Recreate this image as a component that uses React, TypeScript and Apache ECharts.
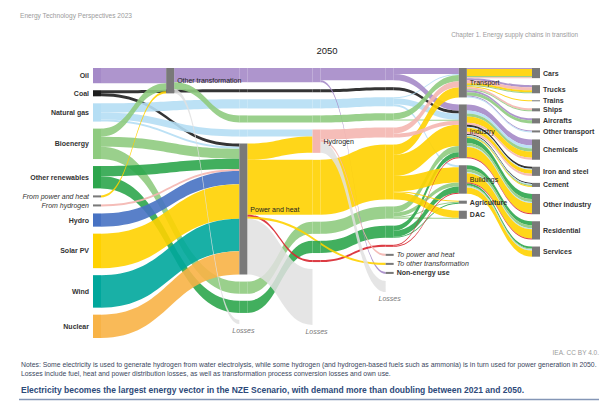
import React, { useEffect, useRef } from "react";
import * as echarts from "echarts";

// ---------- Real nodes ----------
const primarySources = ["Oil", "Coal", "Natural gas", "Bioenergy", "Other renewables", "From power and heat", "From hydrogen", "Hydro", "Solar PV", "Wind", "Nuclear"];
const sectorNodes = ["Transport", "Industry", "Buildings", "Agriculture", "DAC"];
const endUseNodes = ["Cars", "Trucks", "Trains", "Ships", "Aircrafts", "Other transport", "Chemicals", "Iron and steel", "Cement", "Other industry", "Residential", "Services"];

// Column stacking order (top to bottom); "@x" entries are flow bundles passing through the column
const column1 = ["Other transformation"];
const column2 = ["@oil", "@coal", "@gas", "@biofuel", "@gasH2", "Power and heat", "@bio", "@ren", "Losses (other transformation)"];
const column3 = ["@oil", "@coal", "@gas", "@biofuel", "Hydrogen", "@elec", "@bio", "@ren", "@heat", "Losses (power and heat)"];
const column4 = ["@oil", "@coal", "@gas", "@biofuel", "@h2", "@elec", "@bio", "@ren", "@heat", "To power and heat", "To other transformation", "Non-energy use", "Losses (hydrogen)"];

// Columns in which each bundle of long flows is drawn as a continuous band
const bundleColumns: Record<string, number[]> = {
  oil: [2, 3, 4], coal: [2, 3, 4], gas: [2, 3, 4], biofuel: [2, 3, 4], gasH2: [2],
  bio: [2, 3, 4], ren: [2, 3, 4], elec: [3, 4], heat: [3, 4], h2: [4],
};

type Flow = [string, string, string, number, string?];

// ---------- Flows (source, target, carrier, value, bundle) ----------
const supplyFlows: Flow[] = [
  ["Oil", "Other transformation", "oil", 15],
  ["Coal", "Power and heat", "coal", 3],
  ["Coal", "Industry", "coal", 3, "coal"],
  ["Natural gas", "Power and heat", "gas", 2],
  ["Natural gas", "Hydrogen", "gas", 7, "gasH2"],
  ["Natural gas", "Transport", "gas", 1, "gas"],
  ["Natural gas", "Industry", "gas", 6, "gas"],
  ["Natural gas", "Buildings", "gas", 2, "gas"],
  ["Bioenergy", "Other transformation", "bio", 8],
  ["Bioenergy", "Power and heat", "bio", 10],
  ["Bioenergy", "Industry", "bio", 6, "bio"],
  ["Bioenergy", "Buildings", "bio", 4, "bio"],
  ["Bioenergy", "Agriculture", "bio", 1, "bio"],
  ["Bioenergy", "DAC", "bio", 1, "bio"],
  ["Other renewables", "Power and heat", "ren", 10],
  ["Other renewables", "Industry", "ren", 5, "ren"],
  ["Other renewables", "Buildings", "ren", 6, "ren"],
  ["Other renewables", "Agriculture", "ren", 1, "ren"],
  ["From power and heat", "Other transformation", "elec", 2],
  ["From hydrogen", "Power and heat", "h2", 2],
  ["Hydro", "Power and heat", "hydro", 13],
  ["Solar PV", "Power and heat", "elec", 34],
  ["Wind", "Power and heat", "wind", 32],
  ["Nuclear", "Power and heat", "nuclear", 23],
];

const transformationFlows: Flow[] = [
  ["Other transformation", "Transport", "oil", 6, "oil"],
  ["Other transformation", "Industry", "oil", 6, "oil"],
  ["Other transformation", "Non-energy use", "oil", 2, "oil"],
  ["Other transformation", "Transport", "bio", 6, "biofuel"],
  ["Other transformation", "Industry", "bio", 1, "biofuel"],
  ["Other transformation", "Losses (other transformation)", "loss", 4],
];

const powerFlows: Flow[] = [
  ["Power and heat", "Hydrogen", "elec", 16],
  ["Power and heat", "Transport", "elec", 10, "elec"],
  ["Power and heat", "Industry", "elec", 21, "elec"],
  ["Power and heat", "Buildings", "elec", 15, "elec"],
  ["Power and heat", "Agriculture", "elec", 1, "elec"],
  ["Power and heat", "DAC", "elec", 7, "elec"],
  ["Power and heat", "Industry", "heat", 1, "heat"],
  ["Power and heat", "Buildings", "heat", 1, "heat"],
  ["Power and heat", "To other transformation", "elec", 2],
  ["Power and heat", "Losses (power and heat)", "loss", 55],
];

const hydrogenFlows: Flow[] = [
  ["Hydrogen", "Transport", "h2", 6, "h2"],
  ["Hydrogen", "Industry", "h2", 4, "h2"],
  ["Hydrogen", "To power and heat", "h2", 2],
  ["Hydrogen", "Losses (hydrogen)", "loss", 11],
];

const transportFlows: Flow[] = [
  ["Transport", "Cars", "oil", 1], ["Transport", "Cars", "elec", 7], ["Transport", "Cars", "bio", 1], ["Transport", "Cars", "h2", 1],
  ["Transport", "Trucks", "oil", 2], ["Transport", "Trucks", "h2", 3], ["Transport", "Trucks", "elec", 2], ["Transport", "Trucks", "bio", 1],
  ["Transport", "Trains", "elec", 1],
  ["Transport", "Ships", "h2", 2], ["Transport", "Ships", "bio", 1],
  ["Transport", "Aircrafts", "oil", 2], ["Transport", "Aircrafts", "bio", 3],
  ["Transport", "Other transport", "oil", 1], ["Transport", "Other transport", "gas", 1],
];

const industryFlows: Flow[] = [
  ["Industry", "Chemicals", "oil", 6], ["Industry", "Chemicals", "gas", 3], ["Industry", "Chemicals", "bio", 3], ["Industry", "Chemicals", "elec", 6], ["Industry", "Chemicals", "h2", 2],
  ["Industry", "Iron and steel", "coal", 2], ["Industry", "Iron and steel", "gas", 1], ["Industry", "Iron and steel", "elec", 4], ["Industry", "Iron and steel", "h2", 2],
  ["Industry", "Cement", "coal", 1], ["Industry", "Cement", "gas", 1], ["Industry", "Cement", "bio", 1], ["Industry", "Cement", "elec", 1],
  ["Industry", "Other industry", "ren", 5], ["Industry", "Other industry", "bio", 3], ["Industry", "Other industry", "gas", 1], ["Industry", "Other industry", "elec", 10], ["Industry", "Other industry", "heat", 1],
];

const buildingsFlows: Flow[] = [
  ["Buildings", "Residential", "ren", 4], ["Buildings", "Residential", "bio", 3], ["Buildings", "Residential", "gas", 1], ["Buildings", "Residential", "elec", 9], ["Buildings", "Residential", "heat", 1],
  ["Buildings", "Services", "ren", 2], ["Buildings", "Services", "bio", 1], ["Buildings", "Services", "gas", 1], ["Buildings", "Services", "elec", 6],
];

// ---------- Styles ----------
const carrierColors: Record<string, string> = {
  oil: "#a58ac8", coal: "#1e1e1e", gas: "#b5def4", bio: "#8fcb80", ren: "#2ea64d",
  elec: "#ffd200", hydro: "#4772c3", wind: "#00a79c", nuclear: "#f8b346",
  h2: "#f4b6b0", heat: "#d8262f", loss: "#e0e0e0",
};
const bundleCarrier: Record<string, string> = {
  oil: "oil", coal: "coal", gas: "gas", biofuel: "bio", gasH2: "gas", bio: "bio", ren: "ren", elec: "elec", heat: "heat", h2: "h2",
};
const sourceCarrier: Record<string, string> = {
  Oil: "oil", Coal: "coal", "Natural gas": "gas", Bioenergy: "bio", "Other renewables": "ren",
  Hydro: "hydro", "Solar PV": "elec", Wind: "wind", Nuclear: "nuclear",
};

const FONT = "'Liberation Sans', Arial, sans-serif";
const NODE_GRAY = "#797979";
const FLOW_OPACITY = 0.9;
const HUB_NODES = ["Other transformation", "Power and heat", "Hydrogen", "Transport", "Industry", "Buildings"];

const columns = [primarySources, column1, column2, column3, column4, sectorNodes, endUseNodes];

function nodeId(entry: string, depth: number) {
  return entry.startsWith("@") ? `${entry}|${depth}` : entry;
}

function buildGraph() {
  const depthOf: Record<string, number> = {};
  const nodes: any[] = [];
  columns.forEach((col, depth) => {
    col.forEach((entry) => {
      const id = nodeId(entry, depth);
      depthOf[entry] = depthOf[entry] ?? depth;
      if (entry.startsWith("@")) {
        const carrier = bundleCarrier[entry.slice(1)];
        nodes.push({
          name: id, depth,
          itemStyle: { color: carrierColors[carrier], opacity: FLOW_OPACITY, borderWidth: 0 },
          label: { show: false },
        });
        return;
      }
      const isLoss = entry.startsWith("Losses");
      const italic = isLoss || entry.startsWith("From ") || entry.startsWith("To ");
      let color = NODE_GRAY;
      if (depth === 0 && sourceCarrier[entry]) color = carrierColors[sourceCarrier[entry]];
      if (entry === "Hydrogen") color = carrierColors.h2;
      const hub = HUB_NODES.includes(entry);
      nodes.push({
        name: id, depth,
        itemStyle: { color, opacity: isLoss ? 0 : 1, borderWidth: 0 },
        label: {
          position: isLoss ? "bottom" : depth === 0 ? "left" : "right",
          formatter: isLoss ? "Losses" : "{b}",
          fontStyle: italic ? "italic" : "normal",
          fontWeight: italic || hub ? "normal" : "bold",
          color: isLoss ? "#777" : hub ? "#222" : "#333",
          distance: depth === 0 ? 4 : 3,
        },
      });
    });
  });

  // split long flows into segments through bundle pass-through nodes
  const segs = new Map<string, { source: string; target: string; carrier: string; value: number }>();
  const all = [...supplyFlows, ...transformationFlows, ...powerFlows, ...hydrogenFlows, ...transportFlows, ...industryFlows, ...buildingsFlows];
  all.forEach(([source, target, carrier, value, bundle]) => {
    const path = [source];
    if (bundle) {
      const d0 = depthOf[source];
      const d1 = depthOf[target];
      bundleColumns[bundle].filter((c) => c > d0 && c < d1).forEach((c) => path.push(`@${bundle}|${c}`));
    }
    path.push(target);
    for (let i = 0; i < path.length - 1; i++) {
      const key = `${path[i]}>${path[i + 1]}>${carrier}`;
      const s = segs.get(key);
      if (s) s.value += value;
      else segs.set(key, { source: path[i], target: path[i + 1], carrier, value });
    }
  });
  const links = Array.from(segs.values()).map((s) => ({
    source: s.source,
    target: s.target,
    value: s.value,
    lineStyle: { color: carrierColors[s.carrier], opacity: s.carrier === "loss" ? 0.85 : FLOW_OPACITY },
  }));
  return { nodes, links };
}

export default function App() {
  const ref = useRef<HTMLDivElement>(null);
  useEffect(() => {
    document.body.style.margin = "0";
    const chart = echarts.init(ref.current!, null, { renderer: "svg" });
    const { nodes, links } = buildGraph();
    chart.setOption({
      animation: false,
      backgroundColor: "#ffffff",
      textStyle: { fontFamily: FONT },
      graphic: [
        { type: "text", x: 20, y: 12, style: { text: "Energy Technology Perspectives 2023", fontSize: 6.6, fill: "#9b9b9b", fontFamily: FONT } },
        { type: "text", x: 578, y: 31, style: { text: "Chapter 1. Energy supply chains in transition", fontSize: 6.4, fill: "#9b9b9b", fontFamily: FONT, textAlign: "right" } },
        { type: "text", x: 327, y: 45, style: { text: "2050", fontSize: 9.5, fill: "#222", fontFamily: FONT, textAlign: "center" } },
        { type: "text", x: 599, y: 349, style: { text: "IEA. CC BY 4.0.", fontSize: 6.5, fill: "#9b9b9b", fontFamily: FONT, textAlign: "right" } },
        { type: "text", x: 21, y: 361, style: { text: "Notes: Some electricity is used to generate hydrogen from water electrolysis, while some hydrogen (and hydrogen-based fuels such as ammonia) is in turn used for power generation in 2050.", fontSize: 6.85, fill: "#3a4660", fontFamily: FONT } },
        { type: "text", x: 21, y: 370, style: { text: "Losses include fuel, heat and power distribution losses, as well as transformation process conversion losses and own use.", fontSize: 6.85, fill: "#3a4660", fontFamily: FONT } },
        { type: "text", x: 21, y: 385, style: { text: "Electricity becomes the largest energy vector in the NZE Scenario, with demand more than doubling between 2021 and 2050.", fontSize: 8.5, fontWeight: "bold", fill: "#2d4a7a", fontFamily: FONT } },
        { type: "line", shape: { x1: 19, y1: 399.5, x2: 599, y2: 399.5 }, style: { stroke: "#8496b6", lineWidth: 1.5 } },
      ],
      series: [
        {
          type: "sankey",
          left: 93,
          top: 68,
          width: 447,
          height: 270,
          nodeWidth: 8,
          nodeGap: 7,
          layoutIterations: 0,
          draggable: false,
          emphasis: { disabled: true },
          label: { fontSize: 7, fontFamily: FONT, color: "#333" },
          lineStyle: { curveness: 0.5 },
          data: nodes,
          links,
        },
      ],
    });
    return () => chart.dispose();
  }, []);
  return <div ref={ref} style={{ position: "absolute", left: 0, top: 0, width: 605, height: 408 }} />;
}
